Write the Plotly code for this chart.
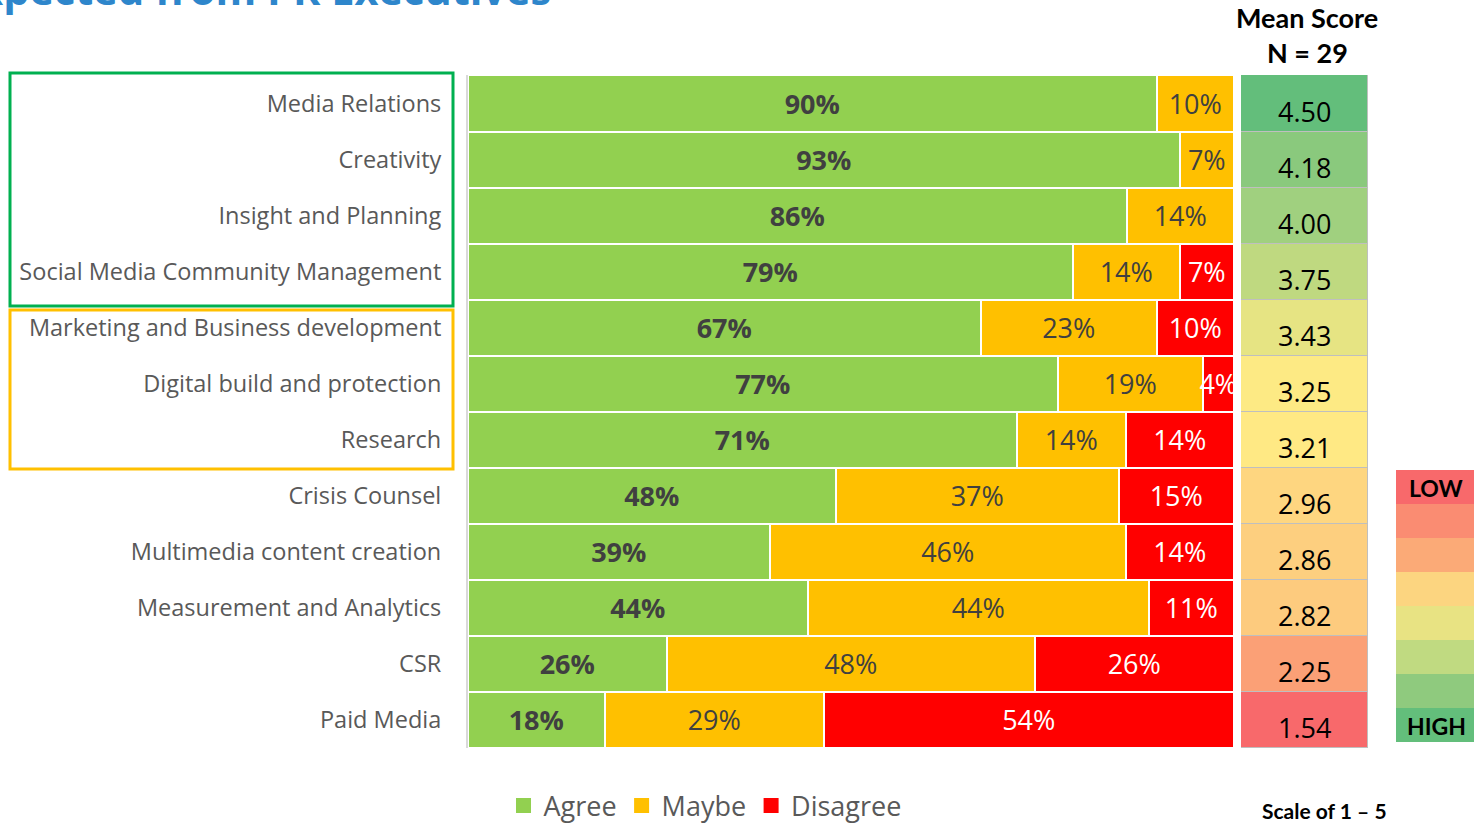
import numpy as np
import plotly.graph_objects as go

# ---- data -------------------------------------------------------------
skills = [
    "Media Relations", "Creativity", "Insight and Planning",
    "Social Media Community Management", "Marketing and Business development",
    "Digital build and protection", "Research", "Crisis Counsel",
    "Multimedia content creation", "Measurement and Analytics", "CSR", "Paid Media",
]
agree = [90, 93, 86, 79, 67, 77, 71, 48, 39, 44, 26, 18]
maybe = [10, 7, 14, 14, 23, 19, 14, 37, 46, 44, 48, 29]
disagree = [0, 0, 0, 7, 10, 4, 14, 15, 14, 11, 26, 54]
mean_score = [4.50, 4.18, 4.00, 3.75, 3.43, 3.25, 3.21, 2.96, 2.86, 2.82, 2.25, 1.54]
n_respondents = 29
scale_legend = ["LOW", "", "", "", "", "", "", "HIGH"]

# ---- layout helpers ---------------------------------------------------
W, H = 1474, 828


def px_x(x):
    return x / W


def px_y(y):
    return 1 - y / H


GREEN, AMBER, RED = "#92D050", "#FFC000", "#FF0000"
LABEL_GREY = "#595959"
TEXT_DARK = "#404040"

bar_dom_x = [px_x(468), px_x(1234)]
mean_dom_x = [px_x(1241), px_x(1368)]
dom_y = [px_y(748), px_y(75)]

fig = go.Figure()


def pct(vals):
    return [f"{v}%" if v else "" for v in vals]


series = [
    ("Agree", agree, GREEN, dict(color=TEXT_DARK, size=27, family="Open Sans", weight="bold")),
    ("Maybe", maybe, AMBER, dict(color=TEXT_DARK, size=27, family="Open Sans")),
    ("Disagree", disagree, RED, dict(color="white", size=27, family="Open Sans")),
]
for name, vals, col, tfont in series:
    fig.add_trace(go.Bar(
        name=name, y=skills, x=vals, orientation="h", showlegend=False,
        marker=dict(color=col, line=dict(color="white", width=2.5)),
        text=pct(vals), texttemplate="%{text}", textposition="inside",
        insidetextanchor="middle", textangle=0, textfont=tfont,
        constraintext="none", cliponaxis=True,
        hoverinfo="name+x", xaxis="x", yaxis="y",
    ))

# legend entries with larger square swatches
for name, _, col, _ in series:
    fig.add_trace(go.Scatter(
        name=name, x=[None], y=[None], mode="markers",
        marker=dict(symbol="square", size=15, color=col), xaxis="x", yaxis="y",
    ))

# mean score column, coloured with a red-yellow-green scale (midpoint at the median)
lo, hi, med = min(mean_score), max(mean_score), float(np.median(mean_score))
mid = (med - lo) / (hi - lo)
fig.add_trace(go.Bar(
    y=skills, x=mean_score, orientation="h", showlegend=False,
    marker=dict(color=mean_score, colorscale=[[0, "#F8696B"], [mid, "#FFEB84"], [1, "#63BE7B"]],
                cmin=lo, cmax=hi, line=dict(color="#BFBFBF", width=1.5)),
    hoverinfo="y+text", text=[f"{v:.2f}" for v in mean_score], textposition="none",
    xaxis="x2", yaxis="y",
))

annotations = []
for s, v in zip(skills, mean_score):
    annotations.append(dict(x=50, y=s, xref="x2", yref="y", text=f"{v:.2f}", showarrow=False,
                            xanchor="center", yanchor="middle", yshift=-8,
                            font=dict(family="Open Sans", size=27, color="black")))


def paper_text(x, y, text, size, family="Lato", color="black", **kw):
    d = dict(x=px_x(x), y=px_y(y), xref="paper", yref="paper", text=text, showarrow=False,
             xanchor="center", yanchor="middle", font=dict(family=family, size=size, color=color))
    d.update(kw)
    return d


annotations += [
    paper_text(1307, 18, "<b>Mean Score</b>", 27),
    paper_text(1307, 52, f"<b>N = {n_respondents}</b>", 27),
    paper_text(1324, 810, "<b>Scale of 1 – 5</b>", 21),
    paper_text(553, 19, "<b>Skills Expected from PR Executives</b>", 41.5, family="Open Sans",
               color="#2E86CB", xanchor="right", yanchor="bottom"),
]

# LOW → HIGH colour key
key_colors = ["#F8696B", "#FA8C72", "#FBAA77", "#FCD580", "#E8E383", "#C0DA81", "#8FCA7E", "#63BE7B"]
shapes = []
top, step = 470, 34
for i, (c, lab) in enumerate(zip(key_colors, scale_legend)):
    y0 = top + i * step
    shapes.append(dict(type="rect", xref="paper", yref="paper", x0=px_x(1396), x1=1.02,
                       y0=px_y(y0 + step), y1=px_y(y0), fillcolor=c, line=dict(width=0), layer="below"))
    if lab:
        annotations.append(paper_text(1436, y0 + step / 2 + 1, f"<b>{lab}</b>", 23))

# group outlines around the skill labels
shapes.append(dict(type="rect", xref="paper", yref="paper", x0=px_x(10), x1=px_x(453),
                   y0=px_y(306), y1=px_y(73), line=dict(color="#00B050", width=3)))
shapes.append(dict(type="rect", xref="paper", yref="paper", x0=px_x(10), x1=px_x(453),
                   y0=px_y(469), y1=px_y(310), line=dict(color="#FFC000", width=3)))

fig.update_layout(
    width=W, height=H, margin=dict(l=0, r=0, t=0, b=0, autoexpand=False),
    paper_bgcolor="white", plot_bgcolor="white",
    barmode="stack", barnorm="percent", bargap=0,
    uniformtext=dict(minsize=27, mode="show"),
    xaxis=dict(domain=bar_dom_x, range=[0, 100], visible=False, fixedrange=True),
    xaxis2=dict(domain=mean_dom_x, range=[0, 100], visible=False, anchor="y", fixedrange=True),
    yaxis=dict(domain=dom_y, autorange="reversed", showgrid=False, ticks="",
               showline=True, linecolor="#D9D9D9", linewidth=2, ticklabelstandoff=20,
               tickfont=dict(family="Open Sans", size=23.5, color=LABEL_GREY)),
    legend=dict(orientation="h", x=px_x(705), xanchor="center", y=px_y(806), yanchor="middle",
                font=dict(family="Open Sans", size=27, color=LABEL_GREY), itemwidth=30,
                traceorder="normal"),
    annotations=annotations, shapes=shapes,
    font=dict(family="Open Sans"),
)

fig.write_html("out.html")
